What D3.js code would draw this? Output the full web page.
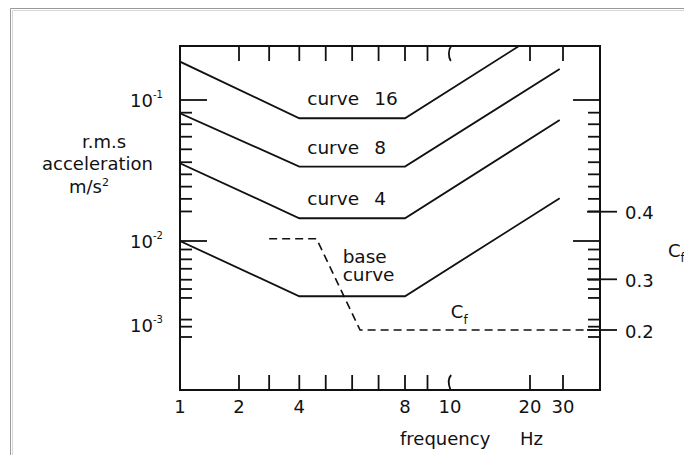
<!DOCTYPE html>
<html>
<head>
<meta charset="utf-8">
<script src="https://cdn.jsdelivr.net/npm/d3@7"></script>
<style>
  body { margin: 0; background: #fff; }
  text { font-family: "DejaVu Sans", sans-serif; fill: #111; }
</style>
</head>
<body>
<div id="chart"></div>
<script>
// curve corner frequencies (Hz) and r.m.s acceleration (m/s^2)
const freqs = [1, 4, 8, 29];
const baseCurve = [0.0100, 0.0022, 0.0022, 0.0201];
const curve4 = [0.0356, 0.0145, 0.0145, 0.0721];
const curve8 = [0.0805, 0.0337, 0.0337, 0.166];
const curve16 = [0.187, 0.0742, 0.0742, 0.368];

// C_f dashed line
const cfFreqs = [3, 4.65, 6.3, 41];
const cfValues = [0.36, 0.36, 0.2, 0.2];

// axis ticks
const xBreaks = [1, 2, 4, 8, 10, 20, 30, 41];
const xTicks = [2, 3, 4, 5, 6, 7, 8, 9, 10, 20, 30];
const xLabels = [1, 2, 4, 8, 10, 20, 30];
const accBreaks = [0.001, 0.01, 0.1];
const accMajor = [0.1, 0.01];
const accMinor = [0.0813, 0.0673, 0.0549, 0.0447, 0.0362, 0.0297, 0.0243, 0.0199, 0.0162,
                  0.00792, 0.00605, 0.00467, 0.00346, 0.00268, 0.0021, 0.00116, 0.000955, 0.00072];
const accLabels = ["-3", "-2", "-1"];
const cfBreaks = [0.2, 0.3, 0.4];
const cfLabels = ["0.2", "0.3", "0.4"];

const curves = [
  { name: "base", values: baseCurve },
  { name: "4", values: curve4 },
  { name: "8", values: curve8 },
  { name: "16", values: curve16 }
];

// layout
const W = 684, H = 455;
const frame = { left: 180, right: 600, top: 46, bottom: 390 };

const svg = d3.select("#chart").append("svg")
    .attr("width", W)
    .attr("height", H);

svg.append("rect").attr("width", W).attr("height", H).attr("fill", "#fff");

// page border (grey double line)
svg.append("path").attr("d", "M10.5,455 V8.5 H684").attr("fill", "none").attr("stroke", "#999").attr("stroke-width", 1);
svg.append("path").attr("d", "M12.5,455 V10.5 H684").attr("fill", "none").attr("stroke", "#d6d6d6").attr("stroke-width", 1);

// scales (the axes of the original are irregular, so piecewise scales)
const x = d3.scaleLinear().domain(xBreaks).range([180, 239, 299.3, 405, 450, 530, 563, 600]);
const y = d3.scaleLog().domain(accBreaks).range([325, 241, 100]);
const yCf = d3.scaleLinear().domain(cfBreaks).range([330, 279.3, 211.7]);

svg.append("clipPath").attr("id", "plot-clip")
  .append("rect")
    .attr("x", frame.left).attr("y", frame.top)
    .attr("width", frame.right - frame.left)
    .attr("height", frame.bottom - frame.top);

const ink = "#111";

// frequency ticks, bottom and top (the 10 Hz tick is a bent stroke)
function tickPath(v, side) {
  const px = x(v);
  if (side === "bottom") {
    if (v === 10) return `M${px + 0.5},${frame.bottom} C${px - 1.8},${frame.bottom - 6} ${px - 1.8},${frame.bottom - 12} ${px + 1.2},${frame.bottom - 15}`;
    return `M${px},${frame.bottom} V${frame.bottom - 15}`;
  }
  if (v === 10) return `M${px + 1.2},${frame.top} C${px - 1.8},${frame.top + 4} ${px - 1.8},${frame.top + 11} ${px + 0.8},${frame.top + 15}`;
  return `M${px},${frame.top} V${frame.top + 15}`;
}

["bottom", "top"].forEach(side => {
  svg.append("g").selectAll("path")
    .data(xTicks)
    .enter()
    .append("path")
    .attr("d", d => tickPath(d, side))
    .attr("fill", "none")
    .attr("stroke", ink)
    .attr("stroke-width", 1.8);
});

svg.append("g").selectAll("text")
  .data(xLabels)
  .enter()
  .append("text")
  .attr("x", d => x(d))
  .attr("y", frame.bottom + 22.5)
  .attr("text-anchor", "middle")
  .attr("font-size", 18)
  .text(d => d);

// acceleration ticks on both sides
[{ x0: frame.left, dir: 1 }, { x0: frame.right, dir: -1 }].forEach(s => {
  svg.append("g").selectAll("line")
    .data(accMajor)
    .enter()
    .append("line")
    .attr("x1", s.x0).attr("x2", s.x0 + s.dir * 27)
    .attr("y1", d => y(d)).attr("y2", d => y(d))
    .attr("stroke", ink).attr("stroke-width", 1.8);

  svg.append("g").selectAll("line")
    .data(accMinor)
    .enter()
    .append("line")
    .attr("x1", s.x0).attr("x2", s.x0 + s.dir * 12)
    .attr("y1", d => y(d)).attr("y2", d => y(d))
    .attr("stroke", ink).attr("stroke-width", 1.8);
});

const accText = svg.append("g").selectAll("text")
  .data(accBreaks)
  .enter()
  .append("text")
  .attr("x", frame.left - 50)
  .attr("y", d => y(d) + 7)
  .attr("font-size", 18);
accText.append("tspan").text("10");
accText.append("tspan")
  .attr("font-size", 10)
  .attr("dy", -9)
  .text((d, i) => accLabels[i]);

// C_f axis on the right
svg.append("g").selectAll("line")
  .data(cfBreaks)
  .enter()
  .append("line")
  .attr("x1", frame.right - 13).attr("x2", frame.right + 17)
  .attr("y1", d => yCf(d)).attr("y2", d => yCf(d))
  .attr("stroke", ink).attr("stroke-width", 1.8);

svg.append("g").selectAll("text")
  .data(cfBreaks)
  .enter()
  .append("text")
  .attr("x", frame.right + 25)
  .attr("y", d => yCf(d) + 7.5)
  .attr("font-size", 18)
  .text((d, i) => cfLabels[i]);

const cRight = svg.append("text")
  .attr("x", 668).attr("y", 257)
  .attr("font-size", 18);
cRight.append("tspan").text("C");
cRight.append("tspan").attr("font-size", 12).attr("dy", 5).text("f");

// curves
const line = d3.line()
  .x(d => x(d[0]))
  .y(d => y(d[1]));

svg.append("g")
  .attr("clip-path", "url(#plot-clip)")
  .selectAll("path")
  .data(curves)
  .enter()
  .append("path")
  .attr("d", c => line(freqs.map((f, i) => [f, c.values[i]])))
  .attr("fill", "none")
  .attr("stroke", ink)
  .attr("stroke-width", 1.8)
  .attr("stroke-linejoin", "miter");

const cfLine = d3.line()
  .x(d => x(d[0]))
  .y(d => yCf(d[1]));

svg.append("path")
  .attr("d", cfLine(cfFreqs.map((f, i) => [f, cfValues[i]])))
  .attr("fill", "none")
  .attr("stroke", ink)
  .attr("stroke-width", 1.6)
  .attr("stroke-dasharray", "8,5");

// frame
svg.append("rect")
  .attr("x", frame.left).attr("y", frame.top)
  .attr("width", frame.right - frame.left)
  .attr("height", frame.bottom - frame.top)
  .attr("fill", "none")
  .attr("stroke", ink)
  .attr("stroke-width", 2);

// curve labels
curves.filter(c => c.name !== "base").forEach(c => {
  const t = svg.append("text")
    .attr("x", x(4.3))
    .attr("y", y(c.values[1]) - 13)
    .attr("font-size", 18.5);
  t.append("tspan").text("curve");
  t.append("tspan").attr("x", x(4.3) + 67).text(c.name);
});

svg.append("text")
  .attr("x", x(5.64)).attr("y", y(baseCurve[1]) - 33)
  .attr("font-size", 18.5)
  .text("base");
svg.append("text")
  .attr("x", x(5.64)).attr("y", y(baseCurve[1]) - 15.5)
  .attr("font-size", 18.5)
  .text("curve");

const cfLabel = svg.append("text")
  .attr("x", x(10.1)).attr("y", yCf(0.2) - 12)
  .attr("font-size", 18);
cfLabel.append("tspan").text("C");
cfLabel.append("tspan").attr("font-size", 12).attr("dy", 6).text("f");

// axis titles
const yTitle = [["r.m.s", 148], ["acceleration", 170], ["m/s", 193]];
svg.append("g").selectAll("text")
  .data(yTitle)
  .enter()
  .append("text")
  .attr("x", d => d[0] === "m/s" ? 89 : (d[0] === "r.m.s" ? 104 : 97.5))
  .attr("y", d => d[1])
  .attr("text-anchor", "middle")
  .attr("font-size", 18)
  .text(d => d[0])
  .filter(d => d[0] === "m/s")
  .append("tspan")
  .attr("font-size", 11)
  .attr("dy", -7)
  .text("2");

svg.append("text")
  .attr("x", 400).attr("y", 445)
  .attr("font-size", 18)
  .text("frequency");
svg.append("text")
  .attr("x", 520).attr("y", 445)
  .attr("font-size", 18)
  .text("Hz");
</script>
</body>
</html>
